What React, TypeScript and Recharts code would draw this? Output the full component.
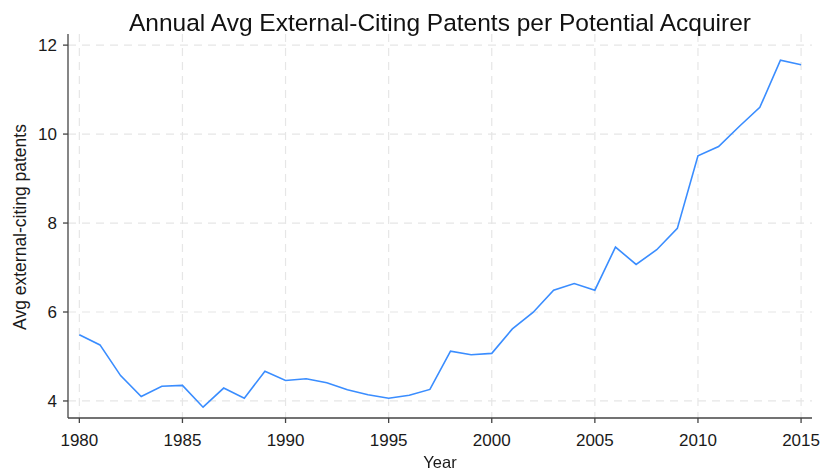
import React from 'react';
import { LineChart, Line, XAxis, YAxis, CartesianGrid } from 'recharts';

const years = [1980,1981,1982,1983,1984,1985,1986,1987,1988,1989,1990,1991,1992,1993,1994,1995,1996,1997,1998,1999,2000,2001,2002,2003,2004,2005,2006,2007,2008,2009,2010,2011,2012,2013,2014,2015];
const avgPatents = [5.49,5.26,4.57,4.10,4.33,4.35,3.86,4.29,4.06,4.67,4.46,4.50,4.41,4.25,4.14,4.06,4.13,4.26,5.12,5.04,5.07,5.62,5.99,6.49,6.64,6.49,7.46,7.07,7.40,7.88,9.51,9.72,10.17,10.60,11.66,11.56];
const xTicks = [1980,1985,1990,1995,2000,2005,2010,2015];
const yTicks = [4,6,8,10,12];

const data = years.map((y, i) => ({ year: y, value: avgPatents[i] }));

const FONT = '"Liberation Sans", Arial, sans-serif';

export default function App() {
  return (
    <div style={{ position: 'fixed', left: 0, top: 0, width: 825, height: 470, background: '#fff', fontFamily: FONT }}>
      <LineChart width={825} height={470} data={data} margin={{ top: 34, right: 13, bottom: 22, left: 8 }}>
        <CartesianGrid stroke="#e6e6e6" strokeDasharray="8 6" strokeWidth={1.2} verticalValues={xTicks} horizontalValues={yTicks} />
        <XAxis
          dataKey="year"
          type="number"
          domain={[1979.45, 2015.53]}
          ticks={xTicks}
          allowDataOverflow
          height={30}
          tickSize={5}
          tickMargin={11}
          stroke="#444"
          strokeWidth={1.3}
          tick={{ fill: '#1a1a1a', fontSize: 17, fontFamily: FONT }}
        />
        <YAxis
          type="number"
          domain={[3.617, 12.25]}
          ticks={yTicks}
          allowDataOverflow
          width={60}
          tickSize={5}
          tickMargin={6}
          stroke="#444"
          strokeWidth={1.3}
          tick={{ fill: '#1a1a1a', fontSize: 17, fontFamily: FONT }}
        />
        <Line type="linear" dataKey="value" stroke="#3a8dff" strokeWidth={1.6} dot={false} isAnimationActive={false} />
      </LineChart>
      <div style={{ position: 'absolute', left: 0, width: 880, top: 9, textAlign: 'center', fontSize: 24.5, lineHeight: 'normal', color: '#111', whiteSpace: 'nowrap' }}>
        Annual Avg External-Citing Patents per Potential Acquirer
      </div>
      <div style={{ position: 'absolute', left: 0, width: 880, top: 453, textAlign: 'center', fontSize: 16.5, color: '#1a1a1a' }}>
        Year
      </div>
      <div style={{ position: 'absolute', left: 20, top: 227, transform: 'translate(-50%, -50%) rotate(-90deg)', fontSize: 17.5, color: '#1a1a1a', whiteSpace: 'nowrap' }}>
        Avg external-citing patents
      </div>
    </div>
  );
}
